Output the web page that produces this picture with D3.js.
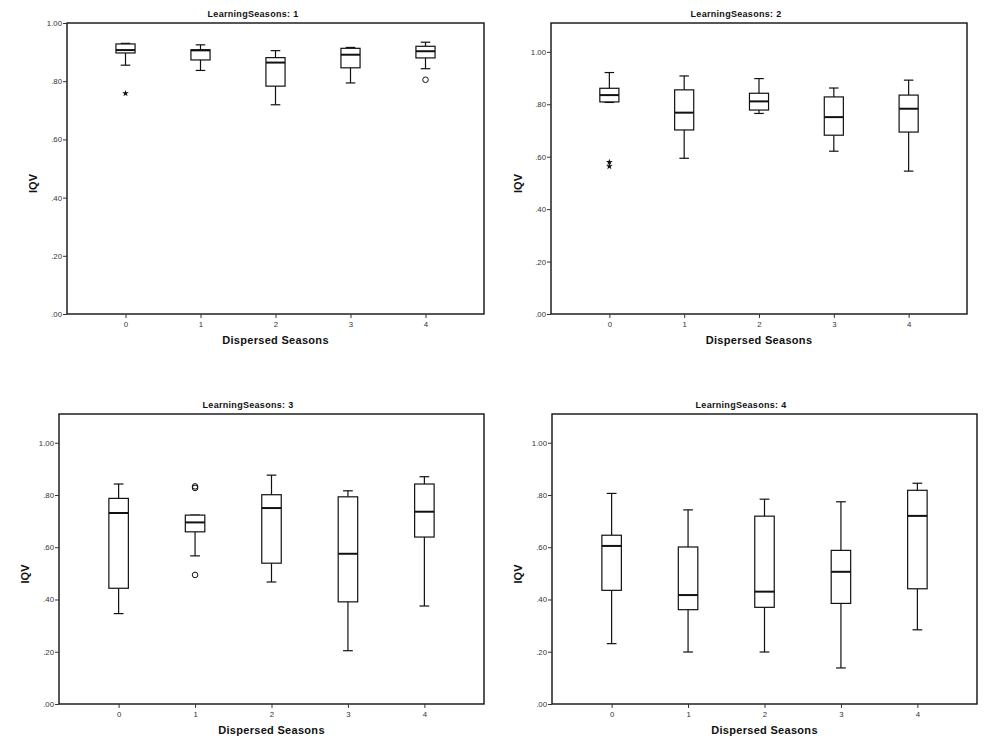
<!DOCTYPE html>
<html>
<head>
<meta charset="utf-8">
<script src="https://cdn.jsdelivr.net/npm/d3@7"></script>
<style>
  body { margin: 0; background: #fff; }
  svg { display: block; }
  text { font-family: "Liberation Sans", Arial, sans-serif; }
</style>
</head>
<body>
<svg id="chart" width="994" height="744"></svg>
<script>
// ---------------- DATA ----------------
const categories = ["0", "1", "2", "3", "4"];
const panelTitles = ["LearningSeasons: 1", "LearningSeasons: 2", "LearningSeasons: 3", "LearningSeasons: 4"];
const yTickValues = [0, 0.2, 0.4, 0.6, 0.8, 1.0];
const yTickLabels = [".00", ".20", ".40", ".60", ".80", "1.00"];
const yMaxByPanel = [1.0, 1.11, 1.11, 1.11];

// five-number summaries, one row per panel, one value per category
const whiskerLow = [
  [0.855, 0.837, 0.719, 0.794, 0.843],
  [0.807, 0.594, 0.765, 0.621, 0.545],
  [0.346, 0.567, 0.467, 0.204, 0.375],
  [0.231, 0.199, 0.199, 0.138, 0.284]
];
const q1 = [
  [0.897, 0.873, 0.783, 0.846, 0.880],
  [0.809, 0.702, 0.778, 0.682, 0.694],
  [0.443, 0.659, 0.539, 0.391, 0.639],
  [0.435, 0.361, 0.370, 0.385, 0.441]
];
const median = [
  [0.907, 0.906, 0.864, 0.891, 0.903],
  [0.835, 0.768, 0.811, 0.751, 0.783],
  [0.731, 0.695, 0.750, 0.575, 0.736],
  [0.605, 0.417, 0.430, 0.506, 0.720]
];
const q3 = [
  [0.928, 0.908, 0.881, 0.913, 0.920],
  [0.861, 0.855, 0.842, 0.828, 0.835],
  [0.787, 0.723, 0.801, 0.793, 0.842],
  [0.646, 0.601, 0.719, 0.588, 0.818]
];
const whiskerHigh = [
  [0.930, 0.925, 0.905, 0.916, 0.934],
  [0.921, 0.908, 0.898, 0.862, 0.892],
  [0.842, 0.723, 0.876, 0.816, 0.870],
  [0.806, 0.743, 0.784, 0.774, 0.845]
];
// outliers (circles) and extremes (stars): [panel, category, value]
const outliers = [
  [0, "4", 0.805],
  [2, "1", 0.833], [2, "1", 0.827], [2, "1", 0.494]
];
const extremes = [
  [0, "0", 0.758],
  [1, "0", 0.579], [1, "0", 0.563]
];

// ---------------- LAYOUT ----------------
const frames = [
  { left: 67,  right: 484, top: 23,  bottom: 314, titleX: 253, ylabX: 33 },
  { left: 551, right: 967, top: 23,  bottom: 314, titleX: 736, ylabX: 518 },
  { left: 59,  right: 484, top: 414, bottom: 704, titleX: 248, ylabX: 25 },
  { left: 552, right: 977, top: 414, bottom: 704, titleX: 741, ylabX: 518 }
];

const svg = d3.select("#chart");
const ink = "#111";

frames.forEach((f, p) => {
  const g = svg.append("g");
  const x = d3.scalePoint().domain(categories).range([f.left, f.right]).padding(0.78);
  const y = d3.scaleLinear().domain([0, yMaxByPanel[p]]).range([f.bottom, f.top]);
  const step = x.step();
  const boxW = step * 0.255;
  const capW = boxW * 0.5;

  // frame
  g.append("rect")
    .attr("x", f.left).attr("y", f.top)
    .attr("width", f.right - f.left).attr("height", f.bottom - f.top)
    .attr("fill", "none").attr("stroke", ink).attr("stroke-width", 1.4);

  // y axis
  const yAxis = d3.axisLeft(y).tickValues(yTickValues)
    .tickFormat((d, i) => yTickLabels[i]).tickSize(4).tickPadding(1);
  const ya = g.append("g").attr("transform", `translate(${f.left},0)`)
    .attr("color", "#333").call(yAxis);
  ya.select(".domain").remove();
  ya.selectAll(".tick text").attr("font-size", 7.8);

  // x axis
  const xAxis = d3.axisBottom(x).tickSize(4).tickPadding(3);
  const xa = g.append("g").attr("transform", `translate(0,${f.bottom})`)
    .attr("color", "#333").call(xAxis);
  xa.select(".domain").remove();
  xa.selectAll(".tick text").attr("font-size", 7.8);

  // titles
  g.append("text").attr("x", f.titleX).attr("y", f.top - 6)
    .attr("text-anchor", "middle").attr("font-size", 9).attr("font-weight", "bold")
    .attr("letter-spacing", 0.3).attr("fill", ink).text(panelTitles[p]);
  g.append("text").attr("x", (f.left + f.right) / 2).attr("y", f.bottom + 30)
    .attr("text-anchor", "middle").attr("font-size", 11).attr("font-weight", "bold")
    .attr("letter-spacing", 0.3).attr("fill", ink).text("Dispersed Seasons");
  g.append("text")
    .attr("transform", `translate(${f.ylabX},${(f.top + f.bottom) / 2 + 15}) rotate(-90)`)
    .attr("text-anchor", "middle").attr("dominant-baseline", "central")
    .attr("font-size", 11).attr("font-weight", "bold").attr("fill", ink).text("IQV");

  // boxes
  categories.forEach((c, i) => {
    const cx = x(c);
    const lo = whiskerLow[p][i], hi = whiskerHigh[p][i];
    const a = q1[p][i], b = q3[p][i], m = median[p][i];
    const bg = g.append("g").attr("stroke", ink).attr("fill", "none");
    // whiskers
    bg.append("line").attr("x1", cx).attr("x2", cx).attr("y1", y(lo)).attr("y2", y(a)).attr("stroke-width", 1.2);
    bg.append("line").attr("x1", cx).attr("x2", cx).attr("y1", y(hi)).attr("y2", y(b)).attr("stroke-width", 1.2);
    bg.append("line").attr("x1", cx - capW / 2).attr("x2", cx + capW / 2).attr("y1", y(lo)).attr("y2", y(lo)).attr("stroke-width", 1.2);
    bg.append("line").attr("x1", cx - capW / 2).attr("x2", cx + capW / 2).attr("y1", y(hi)).attr("y2", y(hi)).attr("stroke-width", 1.2);
    // box
    bg.append("rect").attr("x", cx - boxW / 2).attr("y", y(b))
      .attr("width", boxW).attr("height", y(a) - y(b))
      .attr("fill", "#fff").attr("stroke-width", 1.2);
    // median
    bg.append("line").attr("x1", cx - boxW / 2).attr("x2", cx + boxW / 2)
      .attr("y1", y(m)).attr("y2", y(m)).attr("stroke-width", 2);
  });

  // outliers
  outliers.filter(o => o[0] === p).forEach(o => {
    g.append("circle").attr("cx", x(o[1])).attr("cy", y(o[2])).attr("r", 2.8)
      .attr("fill", "none").attr("stroke", ink).attr("stroke-width", 1);
  });
  extremes.filter(o => o[0] === p).forEach(o => {
    g.append("path").attr("d", d3.symbol().type(d3.symbolStar).size(14)())
      .attr("transform", `translate(${x(o[1])},${y(o[2])})`)
      .attr("fill", ink);
  });
});
</script>
</body>
</html>
